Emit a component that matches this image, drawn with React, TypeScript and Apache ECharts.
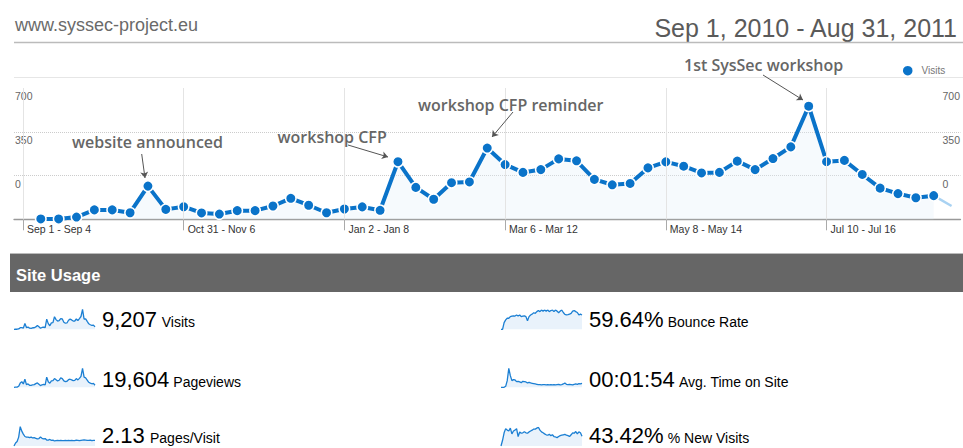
import React, { useEffect, useRef } from "react";
import * as echarts from "echarts";

const weekLabels = [
  "Sep 1 - Sep 4", "Sep 5 - Sep 11", "Sep 12 - Sep 18", "Sep 19 - Sep 25", "Sep 26 - Oct 2",
  "Oct 3 - Oct 9", "Oct 10 - Oct 16", "Oct 17 - Oct 23", "Oct 24 - Oct 30", "Oct 31 - Nov 6",
  "Nov 7 - Nov 13", "Nov 14 - Nov 20", "Nov 21 - Nov 27", "Nov 28 - Dec 4", "Dec 5 - Dec 11",
  "Dec 12 - Dec 18", "Dec 19 - Dec 25", "Dec 26 - Jan 1", "Jan 2 - Jan 8", "Jan 9 - Jan 15",
  "Jan 16 - Jan 22", "Jan 23 - Jan 29", "Jan 30 - Feb 5", "Feb 6 - Feb 12", "Feb 13 - Feb 19",
  "Feb 20 - Feb 26", "Feb 27 - Mar 5", "Mar 6 - Mar 12", "Mar 13 - Mar 19", "Mar 20 - Mar 26",
  "Mar 27 - Apr 2", "Apr 3 - Apr 9", "Apr 10 - Apr 16", "Apr 17 - Apr 23", "Apr 24 - Apr 30",
  "May 1 - May 7", "May 8 - May 14", "May 15 - May 21", "May 22 - May 28", "May 29 - Jun 4",
  "Jun 5 - Jun 11", "Jun 12 - Jun 18", "Jun 19 - Jun 25", "Jun 26 - Jul 2", "Jul 3 - Jul 9",
  "Jul 10 - Jul 16", "Jul 17 - Jul 23", "Jul 24 - Jul 30", "Jul 31 - Aug 6", "Aug 7 - Aug 13",
  "Aug 14 - Aug 20", "Aug 21 - Aug 27", "Aug 28 - Aug 31",
];

const visits = [
  0, 2, 2, 12, 50, 50, 35, 177, 53, 67, 34, 28, 46, 46, 71, 112, 75, 35, 55, 66, 48,
  307, 170, 107, 195, 199, 380, 292, 250, 265, 322, 312, 213, 184, 191, 274,
  306, 283, 247, 250, 310, 265, 324, 386, 603, 307, 314, 239, 166, 137, 115, 126, 71,
];

const pageviews = [
  0, 5, 8, 60, 250, 330, 200, 480, 160, 200, 120, 110, 150, 160, 220, 260, 180, 100, 150, 170, 140,
  600, 330, 240, 380, 400, 520, 450, 380, 420, 560, 520, 380, 340, 360, 450,
  480, 440, 400, 410, 520, 440, 530, 650, 1130, 600, 560, 430, 300, 250, 210, 230, 120,
];

const pagesPerVisit = [
  0, 1.0, 1.5, 3.0, 6.5, 5.0, 4.0, 3.2, 3.0, 3.0, 2.8, 3.0, 2.7, 2.8, 2.6, 2.4, 2.5, 3.0, 2.6, 2.4, 2.5,
  2.0, 2.0, 2.2, 1.9, 2.0, 1.7, 1.8, 1.9, 1.8, 1.9, 1.8, 1.8, 1.9, 1.8, 1.9,
  1.8, 1.9, 1.8, 1.8, 2.0, 1.9, 1.8, 1.9, 2.0, 2.1, 2.0, 1.9, 1.9, 2.0, 1.8, 1.9, 1.9,
];

const bounceRate = [
  0, 0, 24, 34, 40, 40, 46, 48, 49, 48, 52, 48, 52, 46, 48, 49, 46, 31, 46, 52, 55,
  60, 58, 64, 68, 64, 70, 66, 70, 66, 70, 64, 68, 70, 64, 70,
  66, 60, 66, 70, 61, 54, 52, 53, 55, 58, 66, 68, 64, 61, 52, 55, 52,
];

const avgTimeOnSite = [
  0, 0, 0, 30, 200, 570, 350, 200, 230, 220, 170, 180, 160, 140, 180, 170, 160, 130, 150, 130, 120,
  110, 100, 90, 80, 80, 70, 80, 80, 70, 80, 70, 80, 70, 80, 70,
  80, 90, 70, 80, 100, 130, 90, 80, 90, 80, 70, 90, 100, 90, 110, 100, 120,
];

const newVisitsPct = [
  0, 26, 60, 79, 72, 68, 81, 55, 68, 72, 79, 43, 64, 58, 60, 65, 60, 58, 64, 68, 72,
  77, 77, 81, 85, 72, 64, 60, 55, 51, 49, 53, 47, 51, 43, 41,
  38, 43, 47, 49, 51, 53, 49, 47, 43, 51, 60, 58, 66, 55, 64, 60, 44,
];

const yTickLabels = ["", "0", "350", "700"];
const yMax = 700;
const markedWeeks = [0, 9, 18, 27, 36, 45];

const metricValues = ["9,207", "19,604", "2.13", "59.64%", "00:01:54", "43.42%"];
const metricNames = ["Visits", "Pageviews", "Pages/Visit", "Bounce Rate", "Avg. Time on Site", "% New Visits"];
const sparkSeries = [visits, pageviews, pagesPerVisit, bounceRate, avgTimeOnSite, newVisitsPct];

const annotations = [
  { text: "website announced", x: 72, y: 142, from: [141.7, 154], to: [145, 178] },
  { text: "workshop CFP", x: 277.5, y: 136.5, from: [348, 145], to: [388, 157] },
  { text: "workshop CFP reminder", x: 418, y: 104.5, from: [513, 112], to: [492, 137] },
  { text: "1st SysSec workshop", x: 684, y: 64.5, from: [763, 75], to: [803, 100] },
];

const FONT = "'Liberation Sans', Arial, Helvetica, sans-serif";
const BLUE = "#0a73c9";

export default function App() {
  const ref = useRef<HTMLDivElement>(null);

  useEffect(() => {
    document.body.style.margin = "0";
    const chart = echarts.init(ref.current!, undefined, { renderer: "svg" });
    const n = visits.length;
    const mainData = visits.map((v, i) => (i === 0 || i === n - 1 ? "-" : v));
    const partialData = visits.map((v, i) => (i >= n - 2 ? v : "-"));

    const interval = yMax / 3;
    const labelFmt = (v: number) => yTickLabels[Math.round(v / interval)] ?? "";

    const sparkBoxes = [
      { left: 14, top: 309.3, height: 20 },
      { left: 14, top: 368.3, height: 19 },
      { left: 14, top: 426.7, height: 19.3 },
      { left: 501, top: 310, height: 19.3 },
      { left: 501, top: 368.3, height: 19 },
      { left: 501, top: 427.3, height: 18.7 },
    ];
    const grids: any[] = [{ left: 14, right: 0, top: 88, height: 131.3 }];
    const xAxes: any[] = [
      {
        type: "category",
        gridIndex: 0,
        data: weekLabels,
        boundaryGap: true,
        axisLine: { lineStyle: { color: "#999", width: 1.3 } },
        axisTick: { show: true, interval: 8, alignWithLabel: true, length: 11, lineStyle: { color: "#aaa" } },
        axisLabel: {
          interval: 8,
          align: "left",
          padding: [0, 0, 0, 4],
          margin: 4,
          fontSize: 10.5,
          color: "#333",
          fontFamily: FONT,
        },
        splitLine: { show: false },
      },
    ];
    const yAxes: any[] = [
      {
        type: "value",
        gridIndex: 0,
        min: 0,
        max: yMax,
        interval,
        axisLine: { show: false },
        axisTick: { show: false },
        axisLabel: {
          inside: true,
          margin: 1,
          align: "left",
          verticalAlign: "top",
          padding: [2.5, 0, 0, 0],
          fontSize: 10.5,
          color: "#666",
          fontFamily: FONT,
          formatter: labelFmt,
        },
        splitLine: {
          show: true,
          lineStyle: { type: "dotted", color: ["rgba(0,0,0,0)", "#ccc", "#ccc", "rgba(0,0,0,0)"], width: 1 },
        },
      },
      {
        type: "value",
        gridIndex: 0,
        position: "right",
        min: 0,
        max: yMax,
        interval,
        axisLine: { show: false },
        axisTick: { show: false },
        axisLabel: {
          inside: true,
          margin: 18,
          align: "left",
          verticalAlign: "top",
          padding: [2.5, 0, 0, 0],
          fontSize: 10.5,
          color: "#666",
          fontFamily: FONT,
          formatter: labelFmt,
        },
        splitLine: { show: false },
      },
    ];
    const series: any[] = [
      {
        name: "grid",
        type: "line",
        xAxisIndex: 0,
        yAxisIndex: 0,
        data: [],
        z: 1,
        silent: true,
        markLine: {
          silent: true,
          symbol: ["none", "none"],
          label: { show: false },
          lineStyle: { color: "#e4e4e4", width: 1, type: "solid" },
          data: markedWeeks.map((i) => ({ xAxis: weekLabels[i] })),
        },
      },
      {
        name: "Visits",
        type: "line",
        xAxisIndex: 0,
        yAxisIndex: 0,
        data: mainData,
        z: 3,
        symbol: "circle",
        symbolSize: 10.5,
        showAllSymbol: true,
        lineStyle: { color: BLUE, width: 4 },
        itemStyle: { color: BLUE, borderColor: "#fff", borderWidth: 1.5 },
        areaStyle: { color: "rgba(225,238,250,0.45)" },
      },
      {
        name: "partial",
        type: "line",
        xAxisIndex: 0,
        yAxisIndex: 0,
        data: partialData,
        z: 2,
        symbol: "none",
        lineStyle: { color: "#a9d2f2", width: 2.5 },
      },
      {
        name: "annotations",
        type: "line",
        xAxisIndex: 0,
        yAxisIndex: 0,
        data: [],
        z: 5,
        silent: true,
        markLine: {
          silent: true,
          symbol: ["none", "arrow"],
          symbolSize: 6,
          label: { show: false },
          lineStyle: { color: "#555", width: 1, type: "solid" },
          data: annotations.map((a) => [
            { x: a.from[0], y: a.from[1] },
            { x: a.to[0], y: a.to[1] },
          ]),
        },
      },
    ];

    sparkBoxes.forEach((b, k) => {
      grids.push({ left: b.left, width: 81, top: b.top, height: b.height });
      xAxes.push({ type: "category", gridIndex: k + 1, data: weekLabels, boundaryGap: false, show: false });
      yAxes.push({ type: "value", gridIndex: k + 1, min: 0, max: "dataMax", show: false });
      series.push({
        name: metricNames[k],
        type: "line",
        xAxisIndex: k + 1,
        yAxisIndex: k + 2,
        data: sparkSeries[k],
        symbol: "none",
        silent: true,
        lineStyle: { color: "#1b7fd3", width: 1.3 },
        areaStyle: { color: "#dfedf9" },
      });
    });

    const graphics: any[] = [
      {
        type: "text",
        x: 15,
        y: 24.5,
        style: { text: "www.syssec-project.eu", fill: "#6a6a6a", font: `18px ${FONT}`, textVerticalAlign: "middle" },
      },
      {
        type: "text",
        x: 957,
        y: 28.3,
        style: {
          text: "Sep 1, 2010 - Aug 31, 2011",
          fill: "#5a5a5a",
          font: `25px ${FONT}`,
          textAlign: "right",
          textVerticalAlign: "middle",
        },
      },
      { type: "line", shape: { x1: 14, y1: 42.5, x2: 963, y2: 42.5 }, style: { stroke: "#bbb", lineWidth: 1.5 } },
      { type: "line", shape: { x1: 14, y1: 77.5, x2: 963, y2: 77.5 }, style: { stroke: "#e6e6e6", lineWidth: 1 } },
      { type: "rect", shape: { x: 10, y: 254, width: 953, height: 38 }, style: { fill: "#666" } },
      { type: "line", shape: { x1: 10, y1: 253.5, x2: 963, y2: 253.5 }, style: { stroke: "#bbb", lineWidth: 1 } },
      {
        type: "text",
        x: 16,
        y: 274.5,
        style: { text: "Site Usage", fill: "#fff", font: `bold 16.5px ${FONT}`, textVerticalAlign: "middle" },
      },
    ];

    const rowBase = [327.3, 386.7, 442.8];
    const numX = [102, 102, 102, 589, 589, 589];
    const nameX = [161.7, 173.3, 150, 667.7, 679, 667.7];
    metricValues.forEach((v, k) => {
      const base = rowBase[k % 3];
      graphics.push({
        type: "text",
        x: numX[k],
        y: base - 7.7,
        style: { text: v, fill: "#000", font: `22px ${FONT}`, textVerticalAlign: "middle" },
      });
      graphics.push({
        type: "text",
        x: nameX[k],
        y: base - 4.9,
        style: { text: metricNames[k], fill: "#000", font: `14px ${FONT}`, textVerticalAlign: "middle" },
      });
    });

    annotations.forEach((a) => {
      graphics.push({
        type: "text",
        x: a.x,
        y: a.y,
        z: 10,
        style: {
          text: a.text,
          fill: "#666",
          font: `600 16px 'Open Sans', sans-serif`,
          textVerticalAlign: "middle",
        },
      });
    });

    chart.setOption({
      animation: false,
      backgroundColor: "#fff",
      textStyle: { fontFamily: FONT },
      legend: {
        data: ["Visits"],
        left: 898,
        top: 60.7,
        icon: "circle",
        itemWidth: 9.5,
        itemHeight: 9.5,
        selectedMode: false,
        itemStyle: { borderWidth: 0, color: BLUE },
        textStyle: { color: "#777", fontSize: 10, fontFamily: FONT, padding: [0, 0, 0, 4] },
      },
      grid: grids,
      xAxis: xAxes,
      yAxis: yAxes,
      series,
      graphic: graphics,
    });

    return () => chart.dispose();
  }, []);

  return <div ref={ref} style={{ width: 963, height: 448 }} />;
}
